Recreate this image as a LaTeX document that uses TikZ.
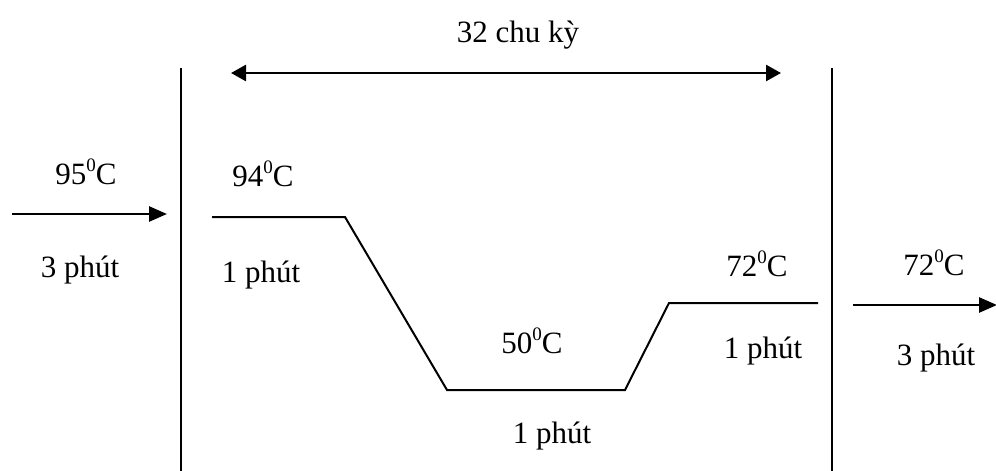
\documentclass[tikz,border=0pt]{standalone}
\usepackage{fontspec}
\setmainfont{Liberation Serif}
\usetikzlibrary{arrows.meta}
\newcommand{\supz}{\raisebox{13pt}{\fontsize{19}{19}\selectfont 0}}
\begin{document}
\begin{tikzpicture}[x=1pt,y=-1pt,
  lbl/.style={font=\fontsize{31}{34}\selectfont, inner sep=0pt, anchor=base},
  thin line/.style={line width=2pt},
  arr/.style={line width=2.6pt,-{Triangle[length=18pt,width=15pt]}},
  darr/.style={line width=2.6pt,{Triangle[length=15pt,width=16pt]}-{Triangle[length=15pt,width=16pt]}}]
\useasboundingbox (0,0) rectangle (996,471);
% frame lines
\coordinate (lt) at (181,68); \coordinate (lb) at (181,471);
\coordinate (rt) at (832,68); \coordinate (rb) at (832,471);
\draw[thin line] (lt) -- (lb);
\draw[thin line] (rt) -- (rb);
% cycles arrow
\coordinate (ca) at (231,73); \coordinate (cb) at (781,73);
\draw[darr] (ca) -- (cb);
\node[lbl] (cyc) at (518,42) {32 chu kỳ};
% initial step
\coordinate (ia) at (12,214); \coordinate (ib) at (167,214);
\draw[arr] (ia) -- (ib);
\node[lbl] (t95) at (86,184) {95\supz C};
\node[lbl] (m95) at (80,277) {3 phút};
% profile
\coordinate (p1) at (212,217); \coordinate (p2) at (345,217);
\coordinate (p3) at (447,390); \coordinate (p4) at (625,390);
\coordinate (p5) at (669,303); \coordinate (p6) at (818,303);
\draw[thin line] (p1) -- (p2) -- (p3) -- (p4) -- (p5) -- (p6);
\node[lbl] (t94) at (263,186) {94\supz C};
\node[lbl] (m94) at (261,282) {1 phút};
\node[lbl] (t50) at (532,353) {50\supz C};
\node[lbl] (m50) at (552,443) {1 phút};
\node[lbl] (t72) at (757,276) {72\supz C};
\node[lbl] (m72) at (763,358) {1 phút};
% final step
\coordinate (fa) at (853,305); \coordinate (fb) at (997,305);
\draw[arr] (fa) -- (fb);
\node[lbl] (tf) at (934,275) {72\supz C};
\node[lbl] (mf) at (936,365) {3 phút};
\end{tikzpicture}
\end{document}
